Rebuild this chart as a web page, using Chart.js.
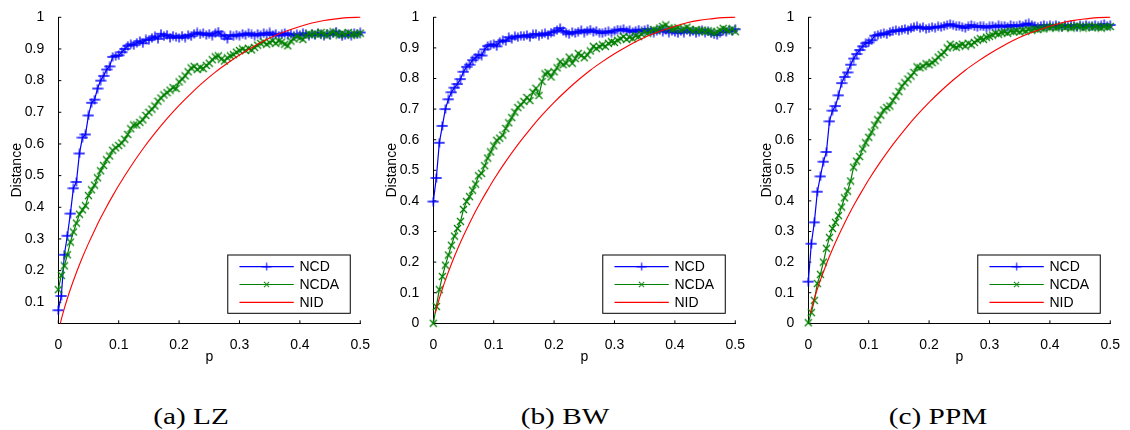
<!DOCTYPE html>
<html>
<head>
<meta charset="utf-8">
<script src="https://cdn.jsdelivr.net/npm/chart.js@4.4.1/dist/chart.umd.min.js"></script>
<style>
body{margin:0;background:#fff;}
#wrap{position:relative;width:1130px;height:430px;overflow:hidden;}
canvas{position:absolute;top:0;}
.cap{position:absolute;top:403.5px;font-family:"Liberation Serif","Times New Roman",serif;font-size:24px;line-height:24px;white-space:nowrap;color:#000;transform:translateX(-50%) scaleX(1.22);}
</style>
</head>
<body>
<div id="wrap">
  <canvas id="lz" width="375" height="370" style="left:0px"></canvas>
  <canvas id="bw" width="375" height="370" style="left:375px"></canvas>
  <canvas id="ppm" width="375" height="370" style="left:750px"></canvas>
  <div class="cap" style="left:191px">(a) LZ</div>
  <div class="cap" style="left:565px">(b) BW</div>
  <div class="cap" style="left:938px">(c) PPM</div>
</div>
<script>
// p values of the NCD / NCDA runs
const pGrid = [0,0.005,0.01,0.015,0.02,0.025,0.03,0.035,0.04,0.045,
  0.05,0.055,0.06,0.065,0.07,0.075,0.08,0.085,0.09,0.095,
  0.1,0.105,0.11,0.115,0.12,0.125,0.13,0.135,0.14,0.145,
  0.15,0.155,0.16,0.165,0.17,0.175,0.18,0.185,0.19,0.195,
  0.2,0.205,0.21,0.215,0.22,0.225,0.23,0.235,0.24,0.245,
  0.25,0.255,0.26,0.265,0.27,0.275,0.28,0.285,0.29,0.295,
  0.3,0.305,0.31,0.315,0.32,0.325,0.33,0.335,0.34,0.345,
  0.35,0.355,0.36,0.365,0.37,0.375,0.38,0.385,0.39,0.395,
  0.4,0.405,0.41,0.415,0.42,0.425,0.43,0.435,0.44,0.445,
  0.45,0.455,0.46,0.465,0.47,0.475,0.48,0.485,0.49,0.495,
  0.5];

// (a) LZ
const lzNCD = [0.075,0.12,0.25,0.31,0.38,0.46,0.48,0.57,0.62,0.63,
  0.69,0.73,0.74,0.775,0.80,0.815,0.835,0.845,0.875,0.878,
  0.88,0.89,0.90,0.91,0.915,0.912,0.92,0.925,0.918,0.93,
  0.928,0.935,0.94,0.932,0.948,0.94,0.945,0.935,0.942,0.938,
  0.935,0.942,0.936,0.944,0.94,0.948,0.952,0.946,0.95,0.944,
  0.948,0.942,0.95,0.955,0.945,0.94,0.932,0.944,0.94,0.945,
  0.942,0.948,0.944,0.95,0.946,0.942,0.948,0.944,0.95,0.946,
  0.952,0.944,0.948,0.942,0.946,0.95,0.944,0.948,0.942,0.946,
  0.944,0.95,0.946,0.942,0.948,0.944,0.95,0.946,0.942,0.948,
  0.944,0.95,0.955,0.946,0.94,0.944,0.948,0.942,0.95,0.946,
  0.952];
const lzNCDA = [0.14,0.185,0.215,0.25,0.29,0.322,0.35,0.378,0.392,0.405,
  0.437,0.455,0.47,0.493,0.515,0.532,0.55,0.562,0.58,0.588,
  0.595,0.603,0.615,0.63,0.648,0.66,0.66,0.668,0.676,0.69,
  0.70,0.71,0.72,0.735,0.745,0.755,0.762,0.77,0.778,0.775,
  0.796,0.805,0.815,0.828,0.84,0.845,0.835,0.842,0.838,0.848,
  0.855,0.866,0.875,0.878,0.868,0.862,0.872,0.878,0.882,0.89,
  0.895,0.9,0.895,0.902,0.897,0.905,0.912,0.918,0.922,0.915,
  0.92,0.926,0.918,0.925,0.922,0.915,0.91,0.925,0.932,0.94,
  0.935,0.93,0.942,0.948,0.945,0.95,0.944,0.952,0.948,0.942,
  0.95,0.954,0.948,0.944,0.95,0.946,0.952,0.944,0.948,0.945,
  0.95];

// (b) BW
const bwNCD = [0.398,0.475,0.59,0.645,0.70,0.732,0.755,0.77,0.782,0.798,
  0.822,0.838,0.845,0.86,0.868,0.878,0.875,0.895,0.906,0.91,
  0.912,0.905,0.92,0.925,0.922,0.935,0.93,0.938,0.935,0.94,
  0.938,0.942,0.935,0.944,0.946,0.94,0.944,0.948,0.942,0.95,
  0.953,0.958,0.965,0.955,0.95,0.945,0.952,0.948,0.953,0.958,
  0.95,0.955,0.96,0.952,0.956,0.95,0.948,0.952,0.955,0.95,
  0.956,0.96,0.958,0.962,0.955,0.958,0.952,0.956,0.96,0.954,
  0.958,0.962,0.955,0.95,0.956,0.96,0.953,0.958,0.95,0.955,
  0.952,0.948,0.955,0.95,0.958,0.952,0.955,0.948,0.953,0.958,
  0.95,0.954,0.948,0.944,0.942,0.95,0.955,0.952,0.958,0.955,
  0.961];
const bwNCDA = [0,0.055,0.11,0.153,0.19,0.223,0.255,0.285,0.31,0.333,
  0.372,0.398,0.414,0.435,0.455,0.482,0.49,0.515,0.54,0.56,
  0.58,0.598,0.605,0.615,0.637,0.655,0.672,0.69,0.705,0.714,
  0.725,0.738,0.728,0.755,0.768,0.745,0.79,0.815,0.82,0.805,
  0.822,0.835,0.855,0.845,0.85,0.87,0.85,0.865,0.882,0.875,
  0.868,0.877,0.89,0.905,0.898,0.904,0.91,0.905,0.915,0.92,
  0.918,0.925,0.93,0.937,0.928,0.935,0.93,0.94,0.937,0.945,
  0.953,0.948,0.955,0.96,0.958,0.965,0.97,0.975,0.965,0.96,
  0.962,0.966,0.958,0.962,0.968,0.96,0.956,0.96,0.955,0.958,
  0.952,0.956,0.953,0.948,0.952,0.958,0.964,0.96,0.955,0.962,
  0.953];

// (c) PPM
const ppmNCD = [0.136,0.26,0.33,0.43,0.48,0.528,0.56,0.66,0.695,0.71,
  0.745,0.785,0.805,0.82,0.845,0.865,0.88,0.893,0.905,0.915,
  0.918,0.925,0.94,0.942,0.945,0.948,0.944,0.952,0.955,0.958,
  0.955,0.96,0.962,0.958,0.964,0.968,0.97,0.965,0.968,0.962,
  0.964,0.968,0.966,0.97,0.968,0.972,0.975,0.978,0.974,0.97,
  0.972,0.968,0.965,0.97,0.975,0.97,0.968,0.972,0.97,0.966,
  0.97,0.972,0.968,0.974,0.97,0.972,0.968,0.975,0.972,0.97,
  0.975,0.972,0.978,0.98,0.975,0.972,0.968,0.972,0.975,0.97,
  0.974,0.97,0.975,0.972,0.968,0.974,0.97,0.975,0.972,0.968,
  0.974,0.97,0.975,0.972,0.97,0.975,0.97,0.974,0.978,0.972,
  0.975];
const ppmNCDA = [0.002,0.035,0.075,0.13,0.16,0.2,0.245,0.28,0.31,0.33,
  0.352,0.38,0.41,0.432,0.465,0.51,0.53,0.545,0.57,0.59,
  0.608,0.625,0.648,0.665,0.68,0.697,0.705,0.71,0.728,0.742,
  0.757,0.775,0.786,0.798,0.808,0.82,0.838,0.835,0.84,0.848,
  0.845,0.852,0.858,0.87,0.878,0.885,0.9,0.912,0.905,0.902,
  0.908,0.912,0.906,0.915,0.91,0.918,0.925,0.93,0.928,0.935,
  0.938,0.942,0.948,0.945,0.95,0.952,0.948,0.955,0.953,0.956,
  0.952,0.958,0.955,0.96,0.958,0.962,0.96,0.965,0.962,0.968,
  0.966,0.97,0.965,0.968,0.972,0.966,0.97,0.965,0.968,0.972,
  0.97,0.965,0.968,0.972,0.966,0.97,0.968,0.965,0.97,0.968,
  0.97];

// NID curve, same in all three panels
const nidP = [0.0035,0.005,0.01,0.015,0.02,0.03,0.04,0.05,0.06,0.07,0.08,0.09,0.1,
  0.12,0.14,0.16,0.18,0.2,0.22,0.24,0.26,0.28,0.3,0.32,0.34,0.36,0.38,0.4,
  0.42,0.44,0.46,0.48,0.5];
const nidValues = [0.0336,0.046,0.081,0.112,0.141,0.194,0.242,0.286,0.327,0.366,0.402,0.436,0.469,
  0.529,0.584,0.634,0.68,0.722,0.76,0.795,0.827,0.855,0.881,0.904,0.925,0.943,0.958,0.971,
  0.982,0.99,0.995,0.999,1.0];

const xTicks = [0,0.1,0.2,0.3,0.4,0.5];
const yTicksLZ = [0.1,0.2,0.3,0.4,0.5,0.6,0.7,0.8,0.9,1];
const yTicks = [0,0.1,0.2,0.3,0.4,0.5,0.6,0.7,0.8,0.9,1];
const legendNames = ['NCD','NCDA','NID'];

const BLUE = '#0000ff', GREEN = '#008000', RED = '#ff0000';
const FONT = {family:"'Liberation Sans', Arial, sans-serif", size:14};

function makeMarker(kind, color){
  const c = document.createElement('canvas');
  if (kind === 'plus') { c.width = 12; c.height = 10; } else { c.width = 9; c.height = 9; }
  const g = c.getContext('2d');
  g.strokeStyle = color;
  g.lineWidth = 1.3;
  g.beginPath();
  if (kind === 'plus') {
    g.moveTo(0.5, 5); g.lineTo(11.5, 5);
    g.moveTo(6, 0.5); g.lineTo(6, 9.5);
  } else {
    g.moveTo(1, 1); g.lineTo(8, 8);
    g.moveTo(8, 1); g.lineTo(1, 8);
  }
  g.stroke();
  return c;
}
const plusMk = makeMarker('plus', BLUE);
const crossMk = makeMarker('cross', GREEN);

// inward ticks + boxed legend, matlab style
const matlabLook = {
  id: 'matlabLook',
  beforeDatasetsDraw(chart){
    const ctx = chart.ctx, a = chart.chartArea;
    const xs = chart.scales.x, ys = chart.scales.y;
    ctx.save();
    ctx.strokeStyle = '#000';
    ctx.lineWidth = 1;
    ctx.beginPath();
    xs.ticks.forEach(t => {
      const px = xs.getPixelForValue(t.value);
      ctx.moveTo(px, a.bottom); ctx.lineTo(px, a.bottom - 3);
    });
    ys.ticks.forEach(t => {
      const py = ys.getPixelForValue(t.value);
      ctx.moveTo(a.left, py); ctx.lineTo(a.left + 3, py);
    });
    ctx.stroke();
    ctx.restore();
  },
  afterDraw(chart){
    const ctx = chart.ctx, a = chart.chartArea;
    const w = 122.5, h = 58.3;
    const left = a.right - 10 - w, top = a.bottom - 10 - h;
    ctx.save();
    ctx.fillStyle = '#fff';
    ctx.fillRect(left, top, w, h);
    ctx.strokeStyle = '#000';
    ctx.lineWidth = 1;
    ctx.strokeRect(left, top, w, h);
    const rows = [11.7, 29.5, 47.3];
    const marks = [plusMk, crossMk, null];
    chart.data.datasets.forEach((ds, i) => {
      const y = top + rows[i];
      ctx.strokeStyle = ds.borderColor;
      ctx.lineWidth = 1.2;
      ctx.beginPath();
      ctx.moveTo(left + 11.7, y); ctx.lineTo(left + 66, y);
      ctx.stroke();
      if (marks[i]) {
        const m = marks[i];
        const sc = i === 0 ? 0.85 : 0.7;
        ctx.drawImage(m, left + 38.8 - m.width * sc / 2, y - m.height * sc / 2, m.width * sc, m.height * sc);
      }
      ctx.fillStyle = '#000';
      ctx.font = "14px 'Liberation Sans', Arial, sans-serif";
      ctx.textBaseline = 'middle';
      ctx.textAlign = 'left';
      ctx.fillText(legendNames[i], left + 71.7, y + 0.5);
    });
    ctx.restore();
  }
};

function makePlot(id, ncd, ncda, yMin, yTickList){
  const toPts = (xs, ys) => xs.map((p, i) => ({x: p, y: ys[i]}));
  return new Chart(document.getElementById(id), {
    type: 'line',
    data: {
      datasets: [
        {label: legendNames[0], data: toPts(pGrid, ncd), borderColor: BLUE, borderWidth: 1.2,
          pointStyle: plusMk, pointRadius: 4, order: 3, clip: false},
        {label: legendNames[1], data: toPts(pGrid, ncda), borderColor: GREEN, borderWidth: 1.2,
          pointStyle: crossMk, pointRadius: 4, order: 2, clip: false},
        {label: legendNames[2], data: toPts(nidP, nidValues), borderColor: RED, borderWidth: 1.1,
          pointRadius: 0, cubicInterpolationMode: 'monotone', order: 1, clip: false}
      ]
    },
    options: {
      responsive: false,
      animation: false,
      devicePixelRatio: 1,
      layout: {padding: {top: 17.3, right: 12.3, bottom: 0, left: 0}},
      elements: {line: {tension: 0}},
      plugins: {legend: {display: false}, tooltip: {enabled: false}},
      events: [],
      scales: {
        x: {
          type: 'linear', min: 0, max: 0.5,
          afterBuildTicks: s => { s.ticks = xTicks.map(v => ({value: v})); },
          afterFit: s => { s.height = 46.7; },
          grid: {display: false},
          border: {display: true, color: '#000', width: 1},
          ticks: {color: '#000', font: FONT, padding: 5, maxRotation: 0, autoSkip: false, callback: v => String(v)},
          title: {display: true, text: 'p', color: '#000', font: FONT, padding: {top: 0, bottom: 4.6}}
        },
        y: {
          type: 'linear', min: yMin, max: 1,
          afterBuildTicks: s => { s.ticks = yTickList.map(v => ({value: v})); },
          afterFit: s => { s.width = 58.3; },
          grid: {display: false},
          border: {display: true, color: '#000', width: 1},
          ticks: {color: '#000', font: FONT, padding: 6, autoSkip: false, callback: v => String(v)},
          title: {display: true, text: 'Distance', color: '#000', font: FONT, padding: {top: 8.9, bottom: 0}}
        }
      }
    },
    plugins: [matlabLook]
  });
}

makePlot('lz', lzNCD, lzNCDA, 0.0336, yTicksLZ);
makePlot('bw', bwNCD, bwNCDA, 0, yTicks);
makePlot('ppm', ppmNCD, ppmNCDA, 0, yTicks);
</script>
</body>
</html>
